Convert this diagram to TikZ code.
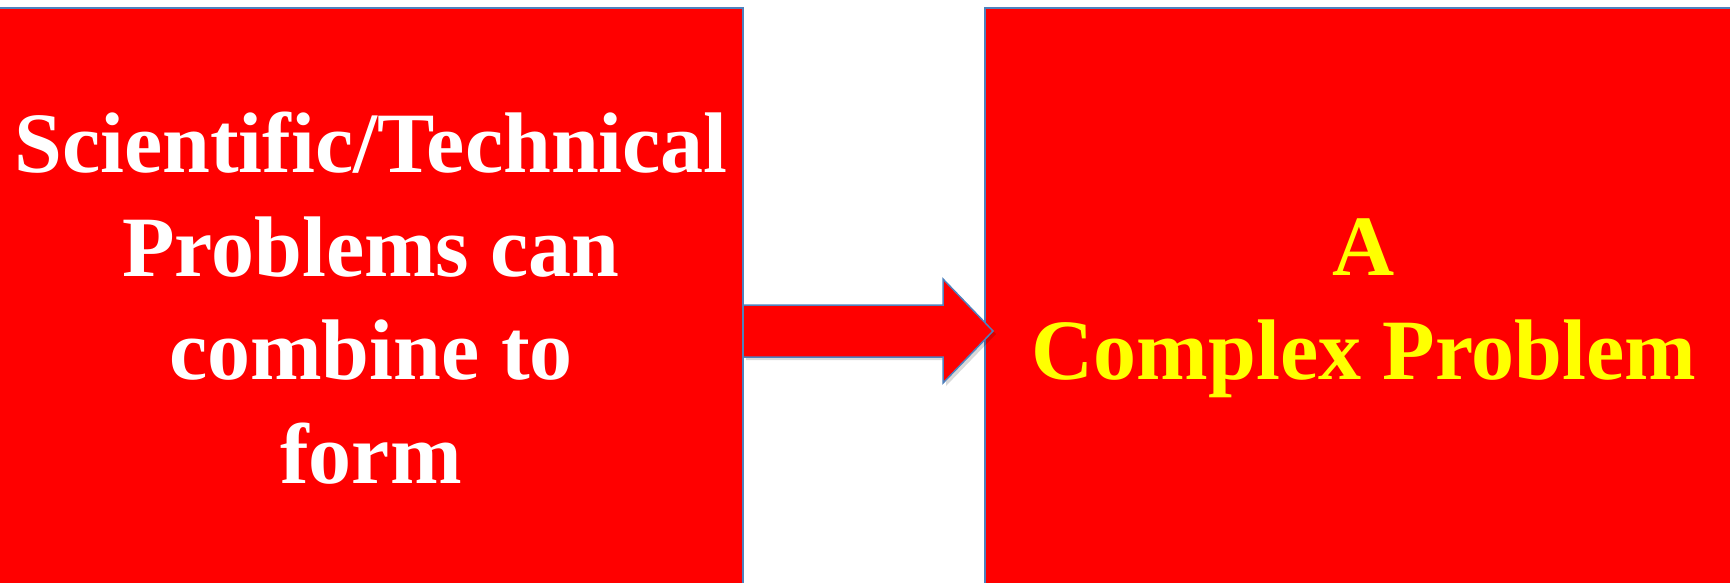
\documentclass[tikz,border=0pt]{standalone}
\usepackage{fontspec}
\setmainfont{Liberation Serif}
\usetikzlibrary{calc}
\definecolor{boxred}{RGB}{255,0,0}
\definecolor{edgeblue}{RGB}{79,129,189}
\definecolor{textyellow}{RGB}{255,255,0}

\begin{document}
\begin{tikzpicture}[x=1pt,y=-1pt,
    probbox/.style={draw=edgeblue,line width=2pt,fill=boxred,minimum height=592pt,inner sep=0pt,outer sep=0pt},
    probtext/.style={font=\bfseries\fontsize{86}{103.5}\selectfont,align=center,inner sep=0pt},
    blockarrow/.style={draw=edgeblue,line width=1.5pt,fill=boxred,line join=miter}]
\useasboundingbox (0,0) rectangle (1730,582);

% the two boxes
\node[probbox,minimum width=753pt] (src) at (366.5,304) {};
\node[probbox,minimum width=755pt] (dst) at (1362.5,304) {};

% base anchor sits on the last line
\node[probtext,text=white,anchor=base] (srctext) at (371,483) {Scientific/Technical\\Problems can\\combine to\\form};
\node[probtext,text=textyellow,anchor=base] (dsttext) at (1364,379) {A\\Complex Problem};

% block arrow between them
\coordinate (tip) at (993,331);
\coordinate (tail) at (src.east |- tip);
\fill[black,opacity=0.15] ($(tail)+(3,-23)$) -- ($(tip)+(-47,-23)$) -- ($(tip)+(-47,-49)$) -- ($(tip)+(3,3)$) -- ($(tip)+(-47,55)$) -- ($(tip)+(-47,29)$) -- ($(tail)+(3,29)$) -- cycle;
\draw[blockarrow] ($(tail)+(0,-26)$) -- ($(tip)+(-50,-26)$) -- ($(tip)+(-50,-52)$) -- (tip) -- ($(tip)+(-50,52)$) -- ($(tip)+(-50,26)$) -- ($(tail)+(0,26)$) -- cycle;
\end{tikzpicture}
\end{document}
